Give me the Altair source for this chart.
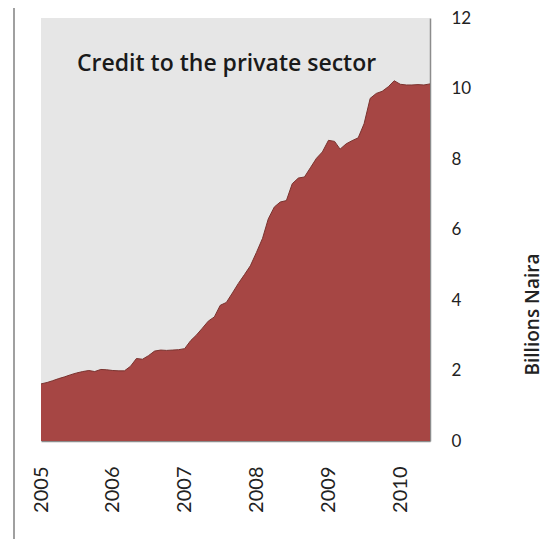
import altair as alt
import pandas as pd

months = pd.date_range("2005-01-01", periods=66, freq="MS").strftime("%Y-%m-%d").tolist()
credit = [
    1.62, 1.66, 1.71, 1.77, 1.82, 1.88, 1.93, 1.97, 2.00, 1.97, 2.03, 2.02,
    2.00, 1.99, 1.99, 2.12, 2.34, 2.32, 2.42, 2.55, 2.58, 2.57, 2.58, 2.59,
    2.62, 2.85, 3.00, 3.20, 3.40, 3.52, 3.85, 3.93, 4.20, 4.47, 4.72, 4.97,
    5.35, 5.75, 6.30, 6.64, 6.78, 6.82, 7.30, 7.46, 7.49, 7.75, 8.02, 8.20,
    8.53, 8.50, 8.28, 8.43, 8.52, 8.60, 9.00, 9.72, 9.86, 9.92, 10.05, 10.22,
    10.12, 10.10, 10.10, 10.11, 10.10, 10.13,
]
title_text = ["Credit to the private sector"]
y_ticks = [0, 2, 4, 6, 8, 10, 12]

df = pd.DataFrame({"month": months, "credit": credit})

FONT = "Lato"
TFONT = "Open Sans"

area = alt.Chart(df).mark_area(
    color="#A64644", opacity=1, line={"color": "#7A332F", "strokeWidth": 1}
).encode(
    x=alt.X(
        "month:T",
        scale=alt.Scale(domain=["2005-01-01", "2010-06-01"], nice=False),
        axis=alt.Axis(
            title=None, format="%Y", tickCount={"interval": "year", "step": 1},
            labelAngle=-90, labelAlign="right", labelBaseline="middle",
            labelPadding=25, ticks=False, grid=False,
            domainColor="#8C8C8C", domainWidth=1.5,
            labelFont=FONT, labelFontSize=20, labelColor="#222222",
        ),
    ),
    y=alt.Y(
        "credit:Q",
        scale=alt.Scale(domain=[0, 12], nice=False),
        axis=alt.Axis(
            orient="right", values=y_ticks, ticks=False, grid=False,
            domainColor="#8C8C8C", domainWidth=1.5,
            labelPadding=21, labelFont=FONT, labelFontSize=17, labelColor="#222222",
            title="Billions Naira", titleAngle=270, titleX=102, titleY=296,
            titleAlign="center", titleBaseline="middle",
            titleFont=TFONT, titleFontSize=19, titleFontWeight=600,
            titleColor="#222222",
        ),
    ),
)

title = alt.Chart(pd.DataFrame({"t": title_text})).mark_text(
    align="left", baseline="middle", font=TFONT, fontSize=23, fontWeight=600,
    color="#1A1A1A",
).encode(text="t:N", x=alt.value(36), y=alt.value(46))

border = alt.Chart(pd.DataFrame({"t": title_text})).mark_rule(
    color="#A0A0A0", strokeWidth=2
).encode(x=alt.value(-27), y=alt.value(-12), y2=alt.value(560))

chart = alt.layer(area, title, border).properties(
    width=389, height=423,
    padding={"left": 33, "top": 10, "right": 114, "bottom": 98},
    autosize=alt.AutoSizeParams(type="none"),
).configure_view(fill="#E6E6E6", stroke=None)

chart.save("out.html", embed_options={"renderer": "svg", "actions": False})
